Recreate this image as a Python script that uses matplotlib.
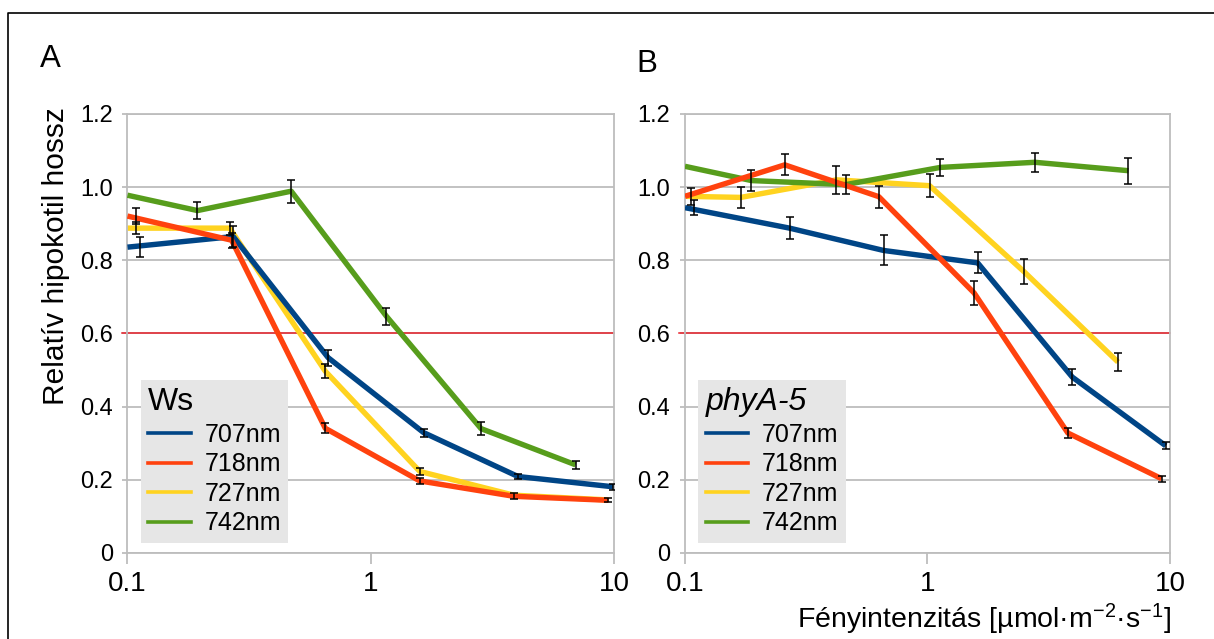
import numpy as np
import matplotlib.pyplot as plt
from matplotlib.lines import Line2D
from matplotlib.ticker import NullLocator

plt.rcParams['font.family'] = ['Liberation Sans', 'DejaVu Sans']
plt.rcParams['mathtext.fontset'] = 'custom'
plt.rcParams['mathtext.rm'] = 'Liberation Sans'
plt.rcParams['mathtext.it'] = 'Liberation Sans:italic'

wavelengths = ['707nm', '718nm', '727nm', '742nm']
colors = {'707nm': '#004586', '718nm': '#ff420e', '727nm': '#ffd320', '742nm': '#579d1c'}
zorders = {'727nm': 2, '742nm': 3, '707nm': 4, '718nm': 5}

# Ws
ws_x = {
    '707nm': [0.1, 0.272, 0.668, 1.65, 4.03, 9.9],
    '718nm': [0.1, 0.268, 0.65, 1.59, 3.87, 9.48],
    '727nm': [0.1, 0.263, 0.65, 1.59, 3.87, 9.48],
    '742nm': [0.1, 0.194, 0.471, 1.16, 2.84, 6.95],
}
ws_y = {
    '707nm': [0.836, 0.865, 0.534, 0.329, 0.209, 0.181],
    '718nm': [0.921, 0.855, 0.341, 0.197, 0.155, 0.144],
    '727nm': [0.888, 0.888, 0.497, 0.223, 0.158, 0.145],
    '742nm': [0.978, 0.936, 0.989, 0.647, 0.340, 0.241],
}
ws_err = {
    '707nm': [0.027, 0.029, 0.022, 0.011, 0.007, 0.008],
    '718nm': [0.022, 0.020, 0.014, 0.008, 0.008, 0.005],
    '727nm': [0.016, 0.018, 0.020, 0.009, 0.0, 0.0],
    '742nm': [0.0, 0.024, 0.031, 0.024, 0.017, 0.011],
}
# x of the first error bar (first measured dose)
ws_bar_x0 = {'707nm': 0.113, '718nm': 0.108, '727nm': 0.108, '742nm': 0.1}

# phyA-5
phya_x = {
    '707nm': [0.1, 0.27, 0.659, 1.61, 3.95, 9.6],
    '718nm': [0.1, 0.258, 0.63, 1.556, 3.79, 9.23],
    '727nm': [0.1, 0.170, 0.421, 1.02, 2.50, 6.10],
    '742nm': [0.1, 0.188, 0.46, 1.13, 2.77, 6.74],
}
phya_y = {
    '707nm': [0.944, 0.888, 0.827, 0.793, 0.481, 0.293],
    '718nm': [0.975, 1.061, 0.974, 0.711, 0.328, 0.203],
    '727nm': [0.975, 0.972, 1.020, 1.004, 0.769, 0.522],
    '742nm': [1.057, 1.018, 1.007, 1.054, 1.068, 1.045],
}
phya_err = {
    '707nm': [0.021, 0.030, 0.041, 0.029, 0.022, 0.010],
    '718nm': [0.023, 0.029, 0.030, 0.033, 0.014, 0.008],
    '727nm': [0.0, 0.029, 0.039, 0.031, 0.034, 0.024],
    '742nm': [0.0, 0.028, 0.025, 0.024, 0.026, 0.036],
}
phya_bar_x0 = {'707nm': 0.109, '718nm': 0.106, '727nm': 0.1, '742nm': 0.1}

yticks = [0, 0.2, 0.4, 0.6, 0.8, 1.0, 1.2]
ytick_labels = ['0', '0.2', '0.4', '0.6', '0.8', '1.0', '1.2']
xticks = [0.1, 1, 10]
xtick_labels = ['0.1', '1', '10']
threshold = 0.6

fig = plt.figure(figsize=(12.14, 6.39), dpi=100)
ax1 = fig.add_axes([0.105, 0.1346, 0.4008, 0.687])
ax2 = fig.add_axes([0.5642, 0.1346, 0.3996, 0.687])

grey = '#bdbdbd'


def draw_panel(ax, xs, ys, errs, bar_x0, title):
    for name in wavelengths:
        x = np.array(xs[name])
        y = np.array(ys[name])
        e = np.array(errs[name])
        ax.plot(x, y, color=colors[name], lw=3.9, solid_joinstyle='round',
                solid_capstyle='butt', zorder=zorders[name])
        bx = x.copy()
        bx[0] = bar_x0[name]
        m = e > 0
        ax.errorbar(bx[m], y[m], yerr=e[m], fmt='none', ecolor='black',
                    elinewidth=1.1, capsize=3, capthick=1.1, zorder=10)

    ax.axhline(threshold, xmin=-0.012, color='#e8202a', lw=1.1,
               clip_on=False, zorder=1.5)

    ax.set_xscale('log')
    ax.set_xlim(0.1, 10)
    ax.set_ylim(0, 1.2)
    ax.set_xticks(xticks)
    ax.set_xticklabels(xtick_labels)
    ax.xaxis.set_minor_locator(NullLocator())
    ax.set_yticks(yticks)
    ax.set_yticklabels(ytick_labels)
    ax.grid(axis='y', color=grey, lw=1.3, zorder=0)
    ax.set_axisbelow(True)
    for sp in ax.spines.values():
        sp.set_color(grey)
        sp.set_linewidth(1.3)
    ax.tick_params(axis='y', length=3.5, width=1.3, color=grey, pad=7,
                   labelsize=17, labelcolor='black')
    ax.tick_params(axis='x', length=8, width=1.3, color=grey, pad=5,
                   labelsize=20, labelcolor='black')

    handles = [Line2D([], [], color=colors[n], lw=2.6) for n in wavelengths]
    leg = ax.legend(handles, wavelengths, title=title, loc='lower left',
                    bbox_to_anchor=(0.027, 0.023), borderaxespad=0,
                    frameon=True, facecolor='#e6e6e6', edgecolor='none',
                    fancybox=False, framealpha=1, fontsize=18,
                    title_fontsize=23, alignment='left', handlelength=1.7,
                    handletextpad=0.55, labelspacing=0.22, borderpad=0.3)
    leg.set_zorder(20)
    return leg


draw_panel(ax1, ws_x, ws_y, ws_err, ws_bar_x0, 'Ws')
leg2 = draw_panel(ax2, phya_x, phya_y, phya_err, phya_bar_x0, 'phyA-5')
leg2.get_title().set_style('italic')

ax1.set_ylabel('Relatív hipokotil hossz', fontsize=21.5)
ax1.yaxis.set_label_coords(-0.119, 0.677)

fig.text(40 / 1214, 1 - 44 / 639, 'A', fontsize=22.5, va='top', ha='left')
fig.text(636 / 1214, 1 - 49 / 639, 'B', fontsize=22.5, va='top', ha='left')
fig.text(1171 / 1214, 2 / 639,
         'Fényintenzitás [µmol·m$^{\\mathregular{-2}}$·s$^{\\mathregular{-1}}$]',
         fontsize=20.5, ha='right', va='bottom')

# frame around the figure
fig.add_artist(Line2D([8 / 1214, 8 / 1214, 1], [0, 1 - 13 / 639, 1 - 13 / 639],
                      transform=fig.transFigure, color='black', lw=1.2))

fig.savefig('out.png', dpi=100)
